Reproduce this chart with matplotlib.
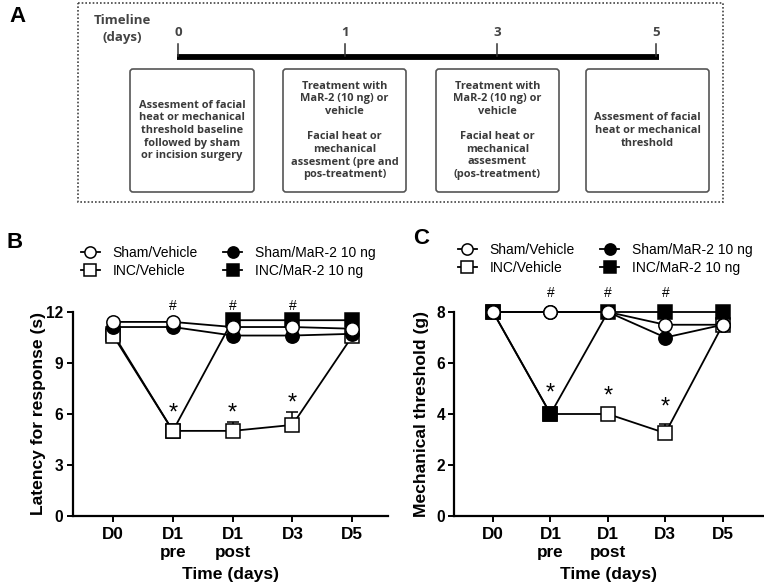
import matplotlib
matplotlib.use("Agg")
import matplotlib.pyplot as plt
from matplotlib.patches import FancyBboxPatch, Rectangle
from matplotlib.lines import Line2D
import numpy as np

plt.rcParams['font.family'] = ['Liberation Sans', 'DejaVu Sans']

# ---------------- data ----------------
categories = ["D0", "D1\npre", "D1\npost", "D3", "D5"]
series_names = ["Sham/Vehicle", "INC/Vehicle", "Sham/MaR-2 10 ng", "INC/MaR-2 10 ng"]

# Panel B: latency for response (s)
b_sham_veh = [11.4, 11.4, 11.1, 11.1, 11.0]
b_sham_mar = [11.1, 11.1, 10.6, 10.6, 10.7]
b_inc_veh = [10.6, 5.0, 5.0, 5.35, 10.55]
b_inc_veh_err = [0.0, 0.3, 0.5, 0.75, 0.0]
b_inc_mar = [10.7, 5.0, 11.5, 11.5, 11.5]
b_yticks = [0, 3, 6, 9, 12]
b_hash_y = 12.35
b_star_y = [6.0, 6.0, 6.6]

# Panel C: mechanical threshold (g)
c_sham_veh = [8.0, 8.0, 8.0, 7.5, 7.5]
c_sham_mar = [8.0, 8.0, 8.0, 7.0, 7.5]
c_inc_veh = [8.0, 4.0, 4.0, 3.25, 7.5]
c_inc_veh_err = [0.0, 0.0, 0.0, 0.35, 0.0]
c_inc_mar = [8.0, 4.0, 8.0, 8.0, 8.0]
c_yticks = [0, 2, 4, 6, 8]
c_hash_y = 8.75
c_star_y = [4.8, 4.68, 4.27]

# Panel A timeline
timeline_days = ["0", "1", "3", "5"]
box_texts = [
    "Assesment of facial\nheat or mechanical\nthreshold baseline\nfollowed by sham\nor incision surgery",
    "Treatment with\nMaR-2 (10 ng) or\nvehicle\n\nFacial heat or\nmechanical\nassesment (pre and\npos-treatment)",
    "Treatment with\nMaR-2 (10 ng) or\nvehicle\n\nFacial heat or\nmechanical\nassesment\n(pos-treatment)",
    "Assesment of facial\nheat or mechanical\nthreshold",
]

W, H = 764, 586
fig = plt.figure(figsize=(W / 100, H / 100), dpi=100)

# ---------------- Panel A (schematic) ----------------
ax0 = fig.add_axes([0, 0, 1, 1])
ax0.set_xlim(0, W)
ax0.set_ylim(H, 0)
ax0.axis('off')
gray = '#3a3a3a'
tfont = ['Open Sans', 'DejaVu Sans']
ax0.add_patch(Rectangle((77.5, 2.5), 645.5, 199.5, fill=False, ec='#444444',
                        lw=1.2, ls=(0, (1.0, 1.2))))
ax0.text(18, 17, "A", fontsize=16, fontweight='bold', ha='center', va='center')
ax0.text(122, 29, "Timeline\n(days)", fontsize=9.5, fontweight='bold', color='#444444',
         ha='center', va='center', family=tfont, linespacing=1.45)
tick_x = [178, 345, 497, 656]
ax0.plot([177, 659], [56.5, 56.5], color='black', lw=4.2, solid_capstyle='butt')
for xx, lab in zip(tick_x, timeline_days):
    ax0.plot([xx, xx], [44, 56], color='#333333', lw=1.1)
    ax0.text(xx, 32, lab, fontsize=9.5, fontweight='bold', color='#444444',
             ha='center', va='center', family=tfont)
boxes = [(130, 254), (283, 406), (436, 559), (586, 709)]
for (x0, x1), txt in zip(boxes, box_texts):
    ax0.add_patch(FancyBboxPatch((x0, 69), x1 - x0, 123,
                                 boxstyle="round,pad=0,rounding_size=3",
                                 fill=False, ec='#555555', lw=1.2))
    ax0.text((x0 + x1) / 2, 130.5, txt, fontsize=7.9, fontweight='bold', color=gray,
             ha='center', va='center', family=tfont, linespacing=1.2)

ax0.text(15, 243, "B", fontsize=16, fontweight='bold', ha='center', va='center')
ax0.text(421, 238, "C", fontsize=16, fontweight='bold', ha='center', va='center')

# ---------------- Panels B and C ----------------
def fx(px):
    return px / W

def fy(py):
    return 1 - py / H

x = np.arange(len(categories))
ms = 9.6
lw = 1.3
mew = 1.1
fs_x = 12.3
fs_y = 11.2
fs_lab = 12.6


def draw_panel(rect, sham_veh, sham_mar, inc_veh, inc_veh_err, inc_mar, yticks, ylabel,
               hash_y, star_y, order, xlim, legend_center, ylab_x):
    ax = fig.add_axes(rect)
    ax.set_facecolor('none')
    styles = {
        'inc_veh': dict(marker='s', mfc='white'),
        'inc_mar': dict(marker='s', mfc='black'),
        'sham_mar': dict(marker='o', mfc='black'),
        'sham_veh': dict(marker='o', mfc='white'),
    }
    data = {'inc_veh': inc_veh, 'inc_mar': inc_mar, 'sham_mar': sham_mar, 'sham_veh': sham_veh}
    for z, key in enumerate(order):
        st = styles[key]
        if key == 'inc_veh':
            ax.errorbar(x, inc_veh, yerr=[np.zeros(len(x)), inc_veh_err], fmt='none',
                        ecolor='black', elinewidth=1.1, capsize=4, capthick=1.1, zorder=3 + z)
        ax.plot(x, data[key], color='black', lw=lw, marker=st['marker'], ms=ms,
                mfc=st['mfc'], mec='black', mew=mew, zorder=4 + z, clip_on=False)
    ax.set_ylim(0, yticks[-1])
    ax.set_yticks(yticks)
    ax.set_xlim(*xlim)
    ax.set_xticks(x)
    ax.set_xticklabels(categories, linespacing=1.25)
    for s in ['top', 'right']:
        ax.spines[s].set_visible(False)
    for s in ['left', 'bottom']:
        ax.spines[s].set_linewidth(1.6)
    ax.tick_params(axis='both', direction='out', width=1.4, length=4.5, pad=2.5)
    ax.tick_params(axis='x', labelsize=fs_x, pad=3.5)
    ax.tick_params(axis='y', labelsize=fs_y, pad=2)
    for lab in ax.get_xticklabels() + ax.get_yticklabels():
        lab.set_fontweight('bold')
    ax.set_ylabel(ylabel, fontsize=fs_lab, fontweight='bold')
    ax.set_xlabel("Time (days)", fontsize=fs_lab, fontweight='bold')
    ax.yaxis.set_label_coords(ylab_x, 0.5)
    ax.xaxis.set_label_coords(0.5, -0.25)
    for i in (1, 2, 3):
        ax.text(x[i], hash_y, "#", fontsize=10, ha='center', va='center', clip_on=False)
        ax.text(x[i], star_y[i - 1], "*", fontsize=17, ha='center', va='center',
                clip_on=False)
    handles = [
        Line2D([], [], color='black', lw=lw, marker='o', ms=ms - 1.5, mfc='white', mec='black', mew=mew),
        Line2D([], [], color='black', lw=lw, marker='s', ms=ms - 1.5, mfc='white', mec='black', mew=mew),
        Line2D([], [], color='black', lw=lw, marker='o', ms=ms - 1.5, mfc='black', mec='black', mew=mew),
        Line2D([], [], color='black', lw=lw, marker='s', ms=ms - 1.5, mfc='black', mec='black', mew=mew),
    ]
    ax.legend(handles, series_names, ncol=2, loc='center',
              bbox_to_anchor=(fx(legend_center[0]), fy(legend_center[1])),
              bbox_transform=fig.transFigure, frameon=False, fontsize=10,
              handlelength=1.4, handletextpad=0.9, columnspacing=1.8, labelspacing=0.3,
              borderpad=0)
    return ax


rect_b = [fx(72.5), fy(516), fx(388) - fx(72.5), fy(311.7) - fy(516)]
draw_panel(rect_b, b_sham_veh, b_sham_mar, b_inc_veh, b_inc_veh_err, b_inc_mar, b_yticks,
           "Latency for response (s)", b_hash_y, b_star_y,
           order=['inc_mar', 'inc_veh', 'sham_mar', 'sham_veh'], xlim=(-0.68, 4.6),
           legend_center=(228, 262), ylab_x=-0.085)

rect_c = [fx(454), fy(516), fx(763) - fx(454), fy(312) - fy(516)]
draw_panel(rect_c, c_sham_veh, c_sham_mar, c_inc_veh, c_inc_veh_err, c_inc_mar, c_yticks,
           "Mechanical threshold (g)", c_hash_y, c_star_y,
           order=['inc_veh', 'inc_mar', 'sham_mar', 'sham_veh'], xlim=(-0.68, 4.7),
           legend_center=(605, 259), ylab_x=-0.082)

fig.savefig("out.png", dpi=100)
